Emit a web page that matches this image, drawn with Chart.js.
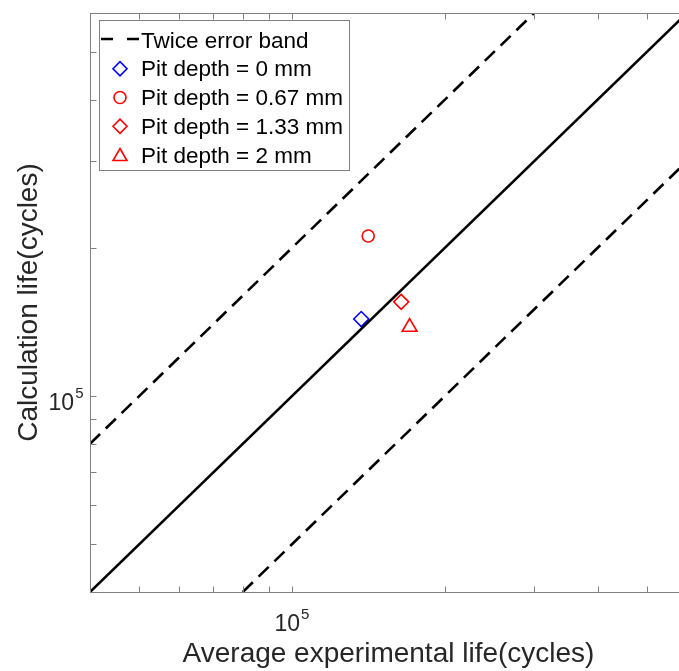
<!DOCTYPE html>
<html>
<head>
<meta charset="utf-8">
<script src="https://cdn.jsdelivr.net/npm/chart.js@4.4.1/dist/chart.umd.min.js"></script>
<style>
    html, body { margin: 0; padding: 0; background: #fff; }
    #wrap { width: 679px; height: 671px; overflow: hidden; position: relative; }
    #lifeChart { display: block; }
</style>
</head>
<body>
<div id="wrap"><canvas id="lifeChart" width="700" height="671"></canvas></div>
<script>
/* ================= DATA ================= */
const pitLabels = ['Pit depth = 0 mm', 'Pit depth = 0.67 mm', 'Pit depth = 1.33 mm', 'Pit depth = 2 mm'];
const experimentalLife = [136900, 141300, 164100, 170500];
const calculationLife = [143400, 211400, 155400, 138100];

// reference lines (endpoints, cycles)
const perfectLineX = [40000, 600000];
const perfectLineY = [40000, 600000];
const upperBandX = [40000, 300000];
const upperBandY = [80000, 600000];
const lowerBandX = [80000, 600000];
const lowerBandY = [40000, 300000];

const axisMin = 40000;
const axisMax = 600000;
const tickValues = [40000, 50000, 60000, 70000, 80000, 90000, 100000, 200000, 300000, 400000, 500000, 600000];
const labelledTicks = [100000];

/* ================= STYLE ================= */
const FONT = "'Liberation Sans', Arial, Helvetica, sans-serif";
const TEXT = '#262626';
const AXIS = '#808080';
const markerStyles = [
    { shape: 'rectRot', color: '#0000ff', radius: 7.5 },
    { shape: 'circle', color: '#ff0000', radius: 6 },
    { shape: 'rectRot', color: '#ff0000', radius: 7.5 },
    { shape: 'triangle', color: '#ff0000', radius: 8.5 }
];

const toPoints = (xs, ys) => xs.map((x, i) => ({ x: x, y: ys[i] }));

const datasets = [
    {
        label: 'Twice error band',
        data: toPoints(upperBandX, upperBandY),
        showLine: true, borderColor: '#000', borderWidth: 2.6,
        borderDash: [14, 8], pointRadius: 0, legendDash: true
    },
    {
        label: '',
        data: toPoints(lowerBandX, lowerBandY),
        showLine: true, borderColor: '#000', borderWidth: 2.6,
        borderDash: [14, 8], pointRadius: 0
    },
    {
        label: '',
        data: toPoints(perfectLineX, perfectLineY),
        showLine: true, borderColor: '#000', borderWidth: 2.6,
        pointRadius: 0
    }
];
pitLabels.forEach((lbl, i) => {
    const m = markerStyles[i];
    datasets.push({
        label: lbl,
        data: [{ x: experimentalLife[i], y: calculationLife[i] }],
        showLine: false,
        pointStyle: m.shape,
        pointRadius: m.radius,
        pointBorderColor: m.color,
        pointBackgroundColor: 'rgba(0,0,0,0)',
        pointBorderWidth: 1.6
    });
});

/* ================= HELPERS ================= */
function drawMarker(ctx, shape, x, y, r) {
    ctx.beginPath();
    if (shape === 'circle') {
        ctx.arc(x, y, r, 0, Math.PI * 2);
    } else if (shape === 'rectRot') {
        ctx.moveTo(x - r, y);
        ctx.lineTo(x, y - r);
        ctx.lineTo(x + r, y);
        ctx.lineTo(x, y + r);
        ctx.closePath();
    } else if (shape === 'triangle') {
        const a = Math.PI * 2 / 3;
        ctx.moveTo(x, y - r);
        ctx.lineTo(x + Math.sin(a) * r, y - Math.cos(a) * r);
        ctx.lineTo(x + Math.sin(2 * a) * r, y - Math.cos(2 * a) * r);
        ctx.closePath();
    }
    ctx.stroke();
}

function drawPower(ctx, x, baseY, align) {
    ctx.font = '23px ' + FONT;
    const w10 = ctx.measureText('10').width;
    ctx.font = '15px ' + FONT;
    const w5 = ctx.measureText('5').width;
    const total = w10 + w5 + 1;
    let start = align === 'right' ? x - total : x - total / 2;
    ctx.fillStyle = TEXT;
    ctx.textAlign = 'left';
    ctx.textBaseline = 'alphabetic';
    ctx.font = '23px ' + FONT;
    ctx.fillText('10', start, baseY);
    ctx.font = '15px ' + FONT;
    ctx.fillText('5', start + w10 + 1, baseY - 12);
}

/* ================= AXES + LEGEND PLUGIN ================= */
const matlabAxes = {
    id: 'matlabAxes',
    afterDraw(chart) {
        const ctx = chart.ctx;
        const area = chart.chartArea;
        const xs = chart.scales.x;
        const ys = chart.scales.y;
        const L = Math.round(area.left) + 0.5, R = Math.round(area.right) + 0.5;
        const T = Math.round(area.top) + 0.5, B = Math.round(area.bottom) + 0.5;
        ctx.save();

        // box
        ctx.strokeStyle = AXIS;
        ctx.lineWidth = 1;
        ctx.setLineDash([]);
        ctx.strokeRect(L, T, R - L, B - T);

        // inward ticks
        const tl = 6;
        ctx.beginPath();
        xs.ticks.forEach(t => {
            const px = Math.round(xs.getPixelForValue(t.value)) + 0.5;
            ctx.moveTo(px, B); ctx.lineTo(px, B - tl);
            ctx.moveTo(px, T); ctx.lineTo(px, T + tl);
        });
        ys.ticks.forEach(t => {
            const py = Math.round(ys.getPixelForValue(t.value)) + 0.5;
            ctx.moveTo(L, py); ctx.lineTo(L + tl, py);
            ctx.moveTo(R, py); ctx.lineTo(R - tl, py);
        });
        ctx.stroke();

        // tick labels
        labelledTicks.forEach(v => {
            drawPower(ctx, xs.getPixelForValue(v), B + 38, 'center');
            drawPower(ctx, L - 7, ys.getPixelForValue(v) + 14, 'right');
        });

        // legend
        const bx = 99.5, by = 20.5, bw = 250, bh = 150;
        ctx.fillStyle = '#fff';
        ctx.fillRect(bx, by, bw, bh);
        ctx.strokeStyle = AXIS;
        ctx.lineWidth = 1;
        ctx.strokeRect(bx, by, bw, bh);

        const entries = chart.data.datasets.filter(d => d.label);
        entries.forEach((d, i) => {
            const cy = 40 + i * 28.75;
            ctx.strokeStyle = d.legendDash ? '#000' : d.pointBorderColor;
            if (d.legendDash) {
                ctx.lineWidth = 2.6;
                ctx.setLineDash([12, 14]);
                ctx.beginPath();
                ctx.moveTo(101, cy - 1);
                ctx.lineTo(139, cy - 1);
                ctx.stroke();
                ctx.setLineDash([]);
            } else {
                ctx.lineWidth = 1.6;
                const r = d.pointStyle === 'circle' ? 6 : (d.pointStyle === 'triangle' ? 8 : 7);
                drawMarker(ctx, d.pointStyle, 120, d.pointStyle === 'triangle' ? cy + 1.5 : cy, r);
            }
            ctx.fillStyle = '#000';
            ctx.font = '22.5px ' + FONT;
            ctx.textAlign = 'left';
            ctx.textBaseline = 'alphabetic';
            ctx.fillText(d.label, 141, cy + 7.5);
        });
        ctx.restore();
    }
};

/* ================= CHART ================= */
const chartEl = document.getElementById('lifeChart');
new Chart(chartEl, {
    type: 'scatter',
    data: { datasets: datasets },
    options: {
        responsive: false,
        animation: false,
        devicePixelRatio: 1,
        layout: { padding: { top: 13, right: 13, left: 0, bottom: 0 } },
        plugins: {
            legend: { display: false },
            tooltip: { enabled: false }
        },
        scales: {
            x: {
                type: 'logarithmic',
                position: 'bottom',
                min: axisMin,
                max: axisMax,
                grid: { display: false },
                border: { display: false },
                ticks: { display: false },
                afterBuildTicks: s => { s.ticks = tickValues.map(v => ({ value: v })); },
                afterFit: s => { s.height = 79; },
                title: {
                    display: true,
                    text: 'Average experimental life(cycles)',
                    color: TEXT,
                    font: { family: FONT, size: 28 },
                    padding: { top: 0, bottom: 0 }
                }
            },
            y: {
                type: 'logarithmic',
                position: 'left',
                min: axisMin,
                max: axisMax,
                grid: { display: false },
                border: { display: false },
                ticks: { display: false },
                afterBuildTicks: s => { s.ticks = tickValues.map(v => ({ value: v })); },
                afterFit: s => { s.width = 90; },
                title: {
                    display: true,
                    text: 'Calculation life(cycles)',
                    color: TEXT,
                    font: { family: FONT, size: 28 },
                    padding: { top: 12, bottom: 0 }
                }
            }
        }
    },
    plugins: [matlabAxes]
});
</script>
</body>
</html>
